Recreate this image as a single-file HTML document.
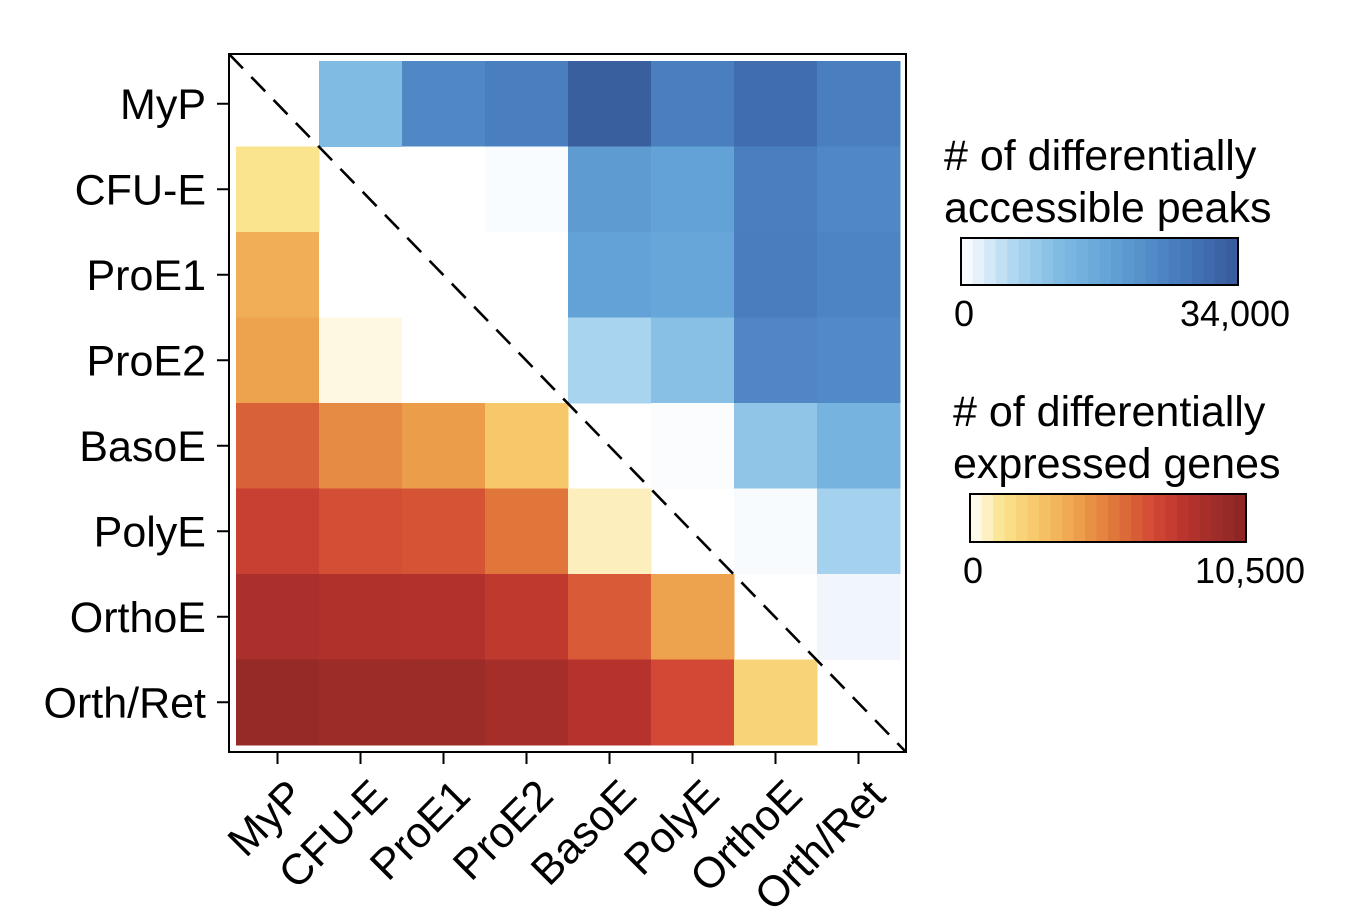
<!DOCTYPE html>
<html><head><meta charset="utf-8"><style>
html,body{margin:0;padding:0;background:#fff;}
svg{display:block;font-family:"Liberation Sans",Arial,sans-serif;}
</style></head><body>
<svg id="chart" width="1348" height="918" viewBox="0 0 1348 918">
<g id="cells"></g>
<rect x="229" y="54" width="677" height="698" fill="none" stroke="#000" stroke-width="2"/>
<line x1="229" y1="54" x2="906" y2="752" stroke="#000" stroke-width="2.6" stroke-dasharray="20,12"/>
<g id="axes"></g>
<g id="legend"></g>
</svg>
<script>
const categories = ["MyP","CFU-E","ProE1","ProE2","BasoE","PolyE","OrthoE","Orth/Ret"];
// upper triangle: differentially accessible peaks (row i, col j>i)
const peaksRows = [
  [null,12000,24000,26000,33000,26000,30000,26000],
  [null,null,0,500,20000,18500,26000,24000],
  [null,null,null,0,18500,17500,26500,25000],
  [null,null,null,null,7000,11000,24500,23500],
  [null,null,null,null,null,400,10000,14000],
  [null,null,null,null,null,null,600,7500],
  [null,null,null,null,null,null,null,1300],
  [null,null,null,null,null,null,null,null]
];
// lower triangle: differentially expressed genes (row i, col j<i)
const genesRows = [
  [],
  [1200],
  [3500,0],
  [4000,300,0],
  [6200,4800,4200,2500],
  [7500,6800,6600,5500,700],
  [8800,8600,8500,7900,6400,4000],
  [9800,9500,9500,9100,8300,7000,2000]
];
const peaksMax = 34000, genesMax = 10500;
const peaksTicks = ["0","34,000"], genesTicks = ["0","10,500"];

const blueStops=[[0,"#ffffff"],[1500,"#eef5fc"],[7000,"#a8d4ef"],[12000,"#80bbe3"],[18500,"#62a2d6"],[24000,"#5088c5"],[28000,"#4476b8"],[34000,"#385a9a"]];
const orangeStops=[[0,"#ffffff"],[1200,"#fbe48e"],[2500,"#f7c86a"],[4000,"#eda34d"],[5500,"#e0763a"],[7000,"#d24834"],[8300,"#b6322d"],[9800,"#962a26"],[10500,"#8c2421"]];
function hx(c){return [1,3,5].map(i=>parseInt(c.substr(i,2),16));}
function cmap(stops,v){
  if(v<=stops[0][0])return stops[0][1];
  for(let i=1;i<stops.length;i++){if(v<=stops[i][0]){const a=stops[i-1],b=stops[i];const t=(v-a[0])/(b[0]-a[0]);const ca=hx(a[1]),cb=hx(b[1]);return "rgb("+ca.map((x,k)=>Math.round(x+(cb[k]-x)*t)).join(",")+")";}}
  return stops[stops.length-1][1];
}
const NS="http://www.w3.org/2000/svg";
function mk(tag,attrs,parent){const e=document.createElementNS(NS,tag);for(const k in attrs)e.setAttribute(k,attrs[k]);parent.appendChild(e);return e;}
const x0=236,y0=61,cw=83,ch=85.5;
const xPos=j=>x0+j*cw, yPos=i=>y0+i*ch;
const cells=document.getElementById("cells");
for(let i=0;i<categories.length;i++){for(let j=0;j<categories.length;j++){
  let v=null,col=null;
  if(j>i){v=peaksRows[i][j];col=cmap(blueStops,v);} else if(j<i){v=genesRows[i][j];col=cmap(orangeStops,v);}
  if(v===null||v===undefined)continue;
  const r=mk("rect",{x:xPos(j),y:yPos(i),width:cw+0.5,height:ch+0.5,fill:col},cells);
  
  
}}
const axes=document.getElementById("axes");
categories.forEach((c,k)=>{
  const yc=yPos(k)+ch/2, xc=xPos(k)+cw/2;
  mk("line",{x1:217,x2:229,y1:yc,y2:yc,stroke:"#000","stroke-width":2},axes);
  const t=mk("text",{x:206,y:yc+15,"text-anchor":"end","font-size":43},axes);t.textContent=c;
  
  
  mk("line",{x1:xc,x2:xc,y1:752,y2:764,stroke:"#000","stroke-width":2},axes);
  const tx=xc+29,ty=798;
  const u=mk("text",{x:tx,y:ty,"text-anchor":"end","font-size":43,transform:"rotate(-45 "+tx+" "+ty+")"},axes);u.textContent=c;
  
  
});
const lg=document.getElementById("legend");
function bar(x,y,w,h,stops,max,title,ticks,name,maxOff){
  const t1=mk("text",{x:x-17,y:y-68,"font-size":43},lg);t1.textContent=title[0];
  
  
  const t2=mk("text",{x:x-17,y:y-16,"font-size":43},lg);t2.textContent=title[1];
  
  
  const n=24;
  for(let i=0;i<n;i++){const r=mk("rect",{x:x+i*w/n,y:y,width:w/n+0.5,height:h,fill:cmap(stops,max*(i+0.5)/n)},lg);
    
    }
  mk("rect",{x:x,y:y,width:w,height:h,fill:"none",stroke:"#000","stroke-width":2},lg);
  const a=mk("text",{x:x+3,y:y+h+41,"text-anchor":"middle","font-size":36},lg);a.textContent=ticks[0];
  
  
  const b=mk("text",{x:x+w+maxOff,y:y+h+41,"text-anchor":"middle","font-size":36},lg);b.textContent=ticks[1];
  
  
}
bar(961,238,277,47,blueStops,peaksMax,["# of differentially","accessible peaks"],peaksTicks,"peaks-colorbar",-3);
bar(970,494,276,48,orangeStops,genesMax,["# of differentially","expressed genes"],genesTicks,"genes-colorbar",4);
</script>
</body></html>
